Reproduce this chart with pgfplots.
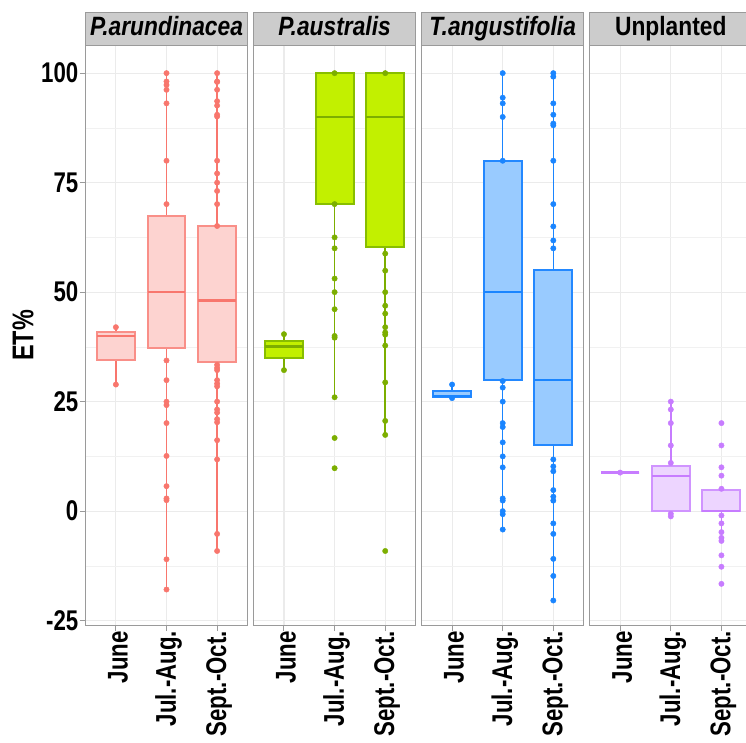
\documentclass[border=0pt]{standalone}
\usepackage{fontspec}
\setmainfont{Liberation Sans}
\newfontfamily\tickfont{Liberation Sans}[FakeStretch=0.78]
\newfontfamily\stripfont{Liberation Sans}[FakeStretch=0.86]
\usepackage{pgfplots}
\pgfplotsset{compat=1.18}
\usepgfplotslibrary{statistics}
\definecolor{gridc}{HTML}{EBEBEB}
\definecolor{bordc}{HTML}{9A9A9A}
\definecolor{stripc}{HTML}{CCCCCC}
\definecolor{c1}{HTML}{F8766D}
\definecolor{c1b}{HTML}{F98F88}
\definecolor{c1f}{HTML}{FDD3D0}
\definecolor{c2}{HTML}{7CAE00}
\definecolor{c2b}{HTML}{88BE00}
\definecolor{c2f}{HTML}{C2F000}
\definecolor{c3}{HTML}{1A85FF}
\definecolor{c3b}{HTML}{2388FF}
\definecolor{c3f}{HTML}{99CBFF}
\definecolor{c4}{HTML}{C77CFF}
\definecolor{c4b}{HTML}{D094FF}
\definecolor{c4f}{HTML}{EDD5FF}
\pgfplotsset{
  panel/.style={
    scale only axis, width=162pt, height=579pt,
    xmin=0.4, xmax=3.6, ymin=-26.0, ymax=106.2,
    xtick={1,2,3}, xticklabels={June,Jul.-Aug.,Sept.-Oct.},
    ytick={-25,0,25,50,75,100},
    minor ytick={-12.5,12.5,37.5,62.5,87.5},
    grid=both,
    major grid style={draw=gridc, line width=1.1pt},
    minor grid style={draw=gridc!70!white, line width=0.6pt},
    axis line style={draw=bordc, line width=1pt},
    tick style={draw=bordc, line width=1pt},
    tick align=outside, major tick length=6pt, minor tick length=0pt,
    xtick pos=left, ytick pos=left,
    /pgf/number format/assume math mode=true,
    x tick label style={rotate=90, anchor=east, inner sep=0pt, yshift=-2pt,
      font=\tickfont\bfseries\fontsize{28.5}{30}\selectfont},
    y tick label style={anchor=east, inner sep=1pt,
      font=\tickfont\bfseries\fontsize{28.5}{30}\selectfont},
    clip=false,
    boxplot/draw direction=y,
  },
  noy/.style={yticklabels={}, ytick style={draw=none}},
  pts/.style={only marks, mark=*, mark size=2.7pt, color=#1},
  bp/.style={draw=#1b, fill=#1f, line width=2pt,
    boxplot/draw direction=y,
    boxplot/every box/.style={draw=#1b, fill=#1f, line width=2pt},
    boxplot/every median/.style={draw=#1, line width=2.2pt},
    boxplot/every whisker/.style={draw=#1, line width=1.5pt}},
}
\newcommand{\strip}[1]{%
  \draw[fill=stripc, draw=bordc, line width=1pt] (axis description cs:0,1) rectangle ([yshift=33.5pt]axis description cs:1,1);
  \node[anchor=base, inner sep=0pt, font=\stripfont\bfseries\fontsize{26.5}{28}\selectfont] at ([yshift=10.7pt]axis description cs:0.5,1) {#1};
  \draw[draw=bordc, line width=1pt] (axis description cs:0,0) rectangle (axis description cs:1,1);
}
\begin{document}
\begin{tikzpicture}
% ---------------- Panel 1: P.arundinacea
\begin{axis}[panel, at={(85.5pt,117pt)}, anchor=south west]
\addplot[pts=c1] coordinates {(1,42) (1,28.9)};
\addplot[pts=c1] coordinates {(2,100) (2,98.1) (2,97.3) (2,96.2) (2,93.1) (2,80) (2,70.1)
 (2,34.4) (2,29.9) (2,25) (2,24.2) (2,20.1) (2,12.6) (2,5.7) (2,2.9) (2,2.5) (2,-11) (2,-17.9)};
\addplot[pts=c1] coordinates {(3,100) (3,98.1) (3,98) (3,96.2) (3,93.6) (3,92.6) (3,90.5) (3,90.1)
 (3,80) (3,77.1) (3,75) (3,73.1) (3,70.1) (3,65.1) (3,33.4) (3,32.7) (3,32.2) (3,29.9) (3,29.1)
 (3,28.5) (3,25) (3,23.2) (3,22.5) (3,21) (3,20.3) (3,16.2) (3,11.8) (3,-5.2) (3,-9.1)};
\addplot[bp=c1, boxplot prepared={lower whisker=28.9, lower quartile=34.4, median=40, upper quartile=40.9, upper whisker=42, draw position=1, box extend=0.75, whisker extend=0}] coordinates {};
\addplot[bp=c1, boxplot prepared={lower whisker=-17.9, lower quartile=37.3, median=50, upper quartile=67.35, upper whisker=100, draw position=2, box extend=0.75, whisker extend=0}] coordinates {};
\addplot[bp=c1, boxplot prepared={lower whisker=-9.1, lower quartile=34.0, median=48.1, upper quartile=65.0, upper whisker=100, draw position=3, box extend=0.75, whisker extend=0}] coordinates {};
\strip{\textit{P.arundinacea}}
\end{axis}
\node[rotate=90, anchor=base, inner sep=0pt, font=\tickfont\bfseries\fontsize{30}{32}\selectfont] at (33.3pt,406.5pt) {ET\%};
% ---------------- Panel 2: P.australis
\begin{axis}[panel, noy, at={(253.6pt,117pt)}, anchor=south west]
\addplot[pts=c2] coordinates {(1,40.4) (1,32.2)};
\addplot[pts=c2] coordinates {(2,100) (2,70.1) (2,62.5) (2,60) (2,53.1) (2,50) (2,46.1) (2,40) (2,39.6) (2,26) (2,16.7) (2,9.8)};
\addplot[pts=c2] coordinates {(3,100) (3,58.8) (3,54.9) (3,50) (3,46.9) (3,45.1) (3,42) (3,40.8) (3,40.3) (3,37.8) (3,29.4) (3,20.6) (3,17.4) (3,-9.1)};
\addplot[bp=c2, boxplot prepared={lower whisker=32.2, lower quartile=34.9, median=37.6, upper quartile=38.9, upper whisker=40.4, draw position=1, box extend=0.75, whisker extend=0}] coordinates {};
\addplot[bp=c2, boxplot prepared={lower whisker=26, lower quartile=70.1, median=90, upper quartile=100, upper whisker=100, draw position=2, box extend=0.75, whisker extend=0}] coordinates {};
\addplot[bp=c2, boxplot prepared={lower whisker=17.4, lower quartile=60.2, median=90, upper quartile=100, upper whisker=100, draw position=3, box extend=0.75, whisker extend=0}] coordinates {};
\strip{\textit{P.australis}}
\end{axis}
% ---------------- Panel 3: T.angustifolia
\begin{axis}[panel, noy, at={(421.7pt,117pt)}, anchor=south west]
\addplot[pts=c3] coordinates {(1,28.9) (1,25.8)};
\addplot[pts=c3] coordinates {(2,100) (2,94.4) (2,93.1) (2,90) (2,80) (2,29.7) (2,28.2) (2,25) (2,20.1) (2,19.2) (2,15.7) (2,12.5) (2,10) (2,2.9) (2,2.4) (2,0) (2,-0.7) (2,-4.2)};
\addplot[pts=c3] coordinates {(3,100) (3,99.2) (3,93.1) (3,90.5) (3,88.5) (3,88.1) (3,80) (3,70.1) (3,65) (3,61.8) (3,60)
 (3,11.8) (3,10.2) (3,9.1) (3,4.8) (3,3.3) (3,2.4) (3,-2.8) (3,-5.2) (3,-10.9) (3,-14.8) (3,-20.4)};
\addplot[bp=c3, boxplot prepared={lower whisker=25.8, lower quartile=26.0, median=26.2, upper quartile=27.5, upper whisker=28.9, draw position=1, box extend=0.75, whisker extend=0}] coordinates {};
\addplot[bp=c3, boxplot prepared={lower whisker=-4.2, lower quartile=30, median=50, upper quartile=80, upper whisker=100, draw position=2, box extend=0.75, whisker extend=0}] coordinates {};
\addplot[bp=c3, boxplot prepared={lower whisker=-20.4, lower quartile=15, median=30, upper quartile=55, upper whisker=100, draw position=3, box extend=0.75, whisker extend=0}] coordinates {};
\strip{\textit{T.angustifolia}}
\end{axis}
% ---------------- Panel 4: Unplanted
\begin{axis}[panel, noy, at={(589.8pt,117pt)}, anchor=south west]
\addplot[pts=c4] coordinates {(1,8.8)};
\addplot[pts=c4] coordinates {(2,25) (2,23.2) (2,20.1) (2,15) (2,11) (2,-0.6) (2,-1.2)};
\addplot[pts=c4] coordinates {(3,20.1) (3,15) (3,10) (3,8.1) (3,5.1) (3,-1) (3,-2.8) (3,-4.8) (3,-6.1) (3,-6.8) (3,-10.1) (3,-12.7) (3,-16.6)};
\addplot[bp=c4, boxplot prepared={lower whisker=8.8, lower quartile=8.8, median=8.8, upper quartile=8.8, upper whisker=8.8, draw position=1, box extend=0.75, whisker extend=0}] coordinates {};
\addplot[bp=c4, boxplot prepared={lower whisker=-1.2, lower quartile=0, median=8.1, upper quartile=10.2, upper whisker=25, draw position=2, box extend=0.75, whisker extend=0}] coordinates {};
\addplot[bp=c4, boxplot prepared={lower whisker=-6.8, lower quartile=0, median=0, upper quartile=4.8, upper whisker=5.1, draw position=3, box extend=0.75, whisker extend=0}] coordinates {};
\strip{Unplanted}
\end{axis}
\pgfresetboundingbox
\useasboundingbox (0pt,0pt) rectangle (746pt,742pt);
\end{tikzpicture}
\end{document}
